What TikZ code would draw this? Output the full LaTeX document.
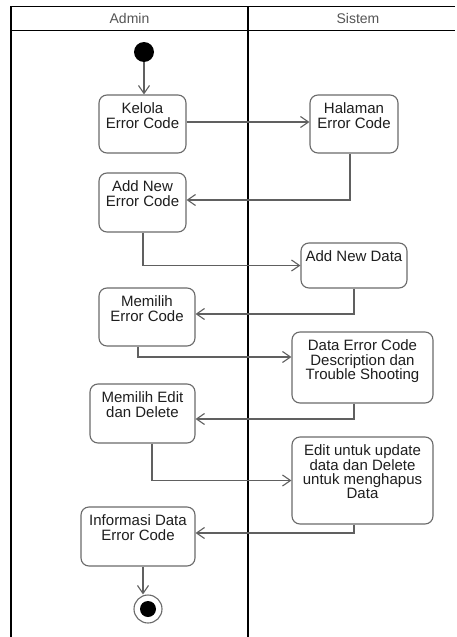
\documentclass[tikz,border=0pt]{standalone}
\usepackage{fontspec}
\setmainfont{Liberation Sans}
\usetikzlibrary{arrows.meta}
\definecolor{boxline}{HTML}{6A6A6A}
\definecolor{arrline}{HTML}{606060}
\definecolor{txt}{HTML}{1E1E1E}
\definecolor{hdr}{HTML}{555555}
\newcommand{\bx}[3]{\parbox[c][#2pt][t]{#1pt}{\centering\vspace*{8pt}#3\par}}
\tikzset{
  lane/.style={line width=1.6pt, black},
  act/.style={draw=boxline, line width=1.1pt, rounded corners=8pt, inner sep=0pt,
    text=txt, font=\fontsize{15}{14.2}\selectfont},
  arr/.style={draw=arrline, line width=1.1pt, -{Straight Barb[length=8pt,width=11pt]}},
  hdrtext/.style={text=hdr, font=\fontsize{14}{15}\selectfont},
}
\begin{document}
\begin{tikzpicture}[x=1pt,y=-1pt]
\useasboundingbox (0,0) rectangle (456,637);
\fill[white] (0,0) rectangle (456,637);
% swimlanes
\coordinate (htl) at (11,6.5);
\coordinate (htr) at (455,6.5);
\coordinate (hbl) at (11,30.5);
\coordinate (hbr) at (455,30.5);
\coordinate (dtop) at (248,6.5);
\coordinate (dbot) at (248,637);
\coordinate (lbot) at (11,637);
\draw[lane] (htr) -- (htl) -- (lbot);
\draw[lane] (hbl) -- (hbr);
\draw[lane] (dtop) -- (dbot);
\node[hdrtext] (hadmin) at (129.5,18) {Admin};
\node[hdrtext] (hsistem) at (358,18) {Sistem};
% start
\node[circle, fill=black, minimum size=20pt, inner sep=0pt] (start) at (144,52) {};
% activities
\node[act] (kelola) at (142.5,124) {\bx{87}{58}{Kelola\\Error Code}};
\node[act] (halaman) at (354,124) {\bx{88}{58}{Halaman\\Error Code}};
\node[act] (addnew) at (142.5,202.5) {\bx{87}{59}{Add New\\Error Code}};
\node[act] (adddata) at (354,265.5) {\bx{106}{45}{Add New Data}};
\node[act] (memilih) at (147,317) {\bx{96}{58}{Memilih\\Error Code}};
\node[act] (dataerr) at (362.5,367.5) {\bx{141}{71}{Data Error Code\\Description dan\\Trouble Shooting}};
\node[act] (editdel) at (142.5,413.5) {\bx{105}{59}{Memilih Edit\\dan Delete}};
\node[act] (editupd) at (362.5,480.5) {\bx{141}{87}{Edit untuk update\\data dan Delete\\untuk menghapus\\Data}};
\node[act] (info) at (138,536.5) {\bx{114}{59}{Informasi Data\\Error Code}};
% final
\node[circle, draw=boxline, line width=1.1pt, fill=white, minimum size=28pt, inner sep=0pt] (fin) at (148,609) {};
\node[circle, fill=black, minimum size=16pt, inner sep=0pt] (finin) at (fin) {};
% flows
\draw[arr] (start) -- (start |- kelola.north);
\draw[arr] ([yshift=2pt]kelola.east) -- ([yshift=2pt]halaman.west);
\draw[arr] ([xshift=-4pt]halaman.south) |- ([yshift=2.5pt]addnew.east);
\draw[arr] ([xshift=0.5pt]addnew.south) |- (adddata.west);
\draw[arr] (adddata.south) |- ([yshift=3pt]memilih.east);
\draw[arr] ([xshift=-9pt]memilih.south) |- ([yshift=10.5pt]dataerr.west);
\draw[arr] ([xshift=-8.5pt]dataerr.south) |- ([yshift=-5.5pt]editdel.east);
\draw[arr] ([xshift=9.5pt]editdel.south) |- (editupd.west);
\draw[arr] ([xshift=-8.5pt]editupd.south) |- ([yshift=3.5pt]info.east);
\draw[arr] ([xshift=5pt]info.south) -- ([xshift=5pt]info.south |- fin.north);
\end{tikzpicture}
\end{document}
